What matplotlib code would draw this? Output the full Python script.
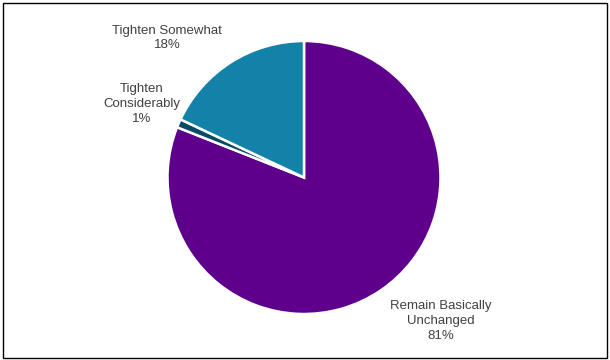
import matplotlib.pyplot as plt
from matplotlib.patches import Rectangle

plt.rcParams["font.family"] = ["Liberation Sans", "DejaVu Sans"]

# slices, clockwise from 12 o'clock
labels = ["Remain Basically\nUnchanged", "Tighten\nConsiderably", "Tighten Somewhat"]
values = [81, 1, 18]
colors = ["#5f008c", "#0b4a66", "#1282a8"]

# label anchor points in pixels (x, y from top)
label_pos = [(441, 321), (142, 104), (167, 38)]

fig = plt.figure(figsize=(6.1, 3.6), dpi=100)
ax = fig.add_axes([0, 0, 1, 1])

ax.pie(values, colors=colors, startangle=90, counterclock=False,
       center=(304, 182.5), radius=136.5, frame=True,
       wedgeprops=dict(edgecolor="white", linewidth=1.8))
ax.set_xlim(0, 610)
ax.set_ylim(0, 360)
ax.set_aspect("equal")
ax.axis("off")

for lab, v, (px, py) in zip(labels, values, label_pos):
    ax.text(px, 360 - py, f"{lab}\n{v}%", ha="center", va="center",
            fontsize=9.5, color="#404040", linespacing=1.3)

fig.patches.append(Rectangle((2.5 / 610, 2.5 / 360), 604 / 610, 355 / 360,
                             transform=fig.transFigure, fill=False,
                             edgecolor="#000000", linewidth=1.0))

fig.savefig("out.png", dpi=100)
